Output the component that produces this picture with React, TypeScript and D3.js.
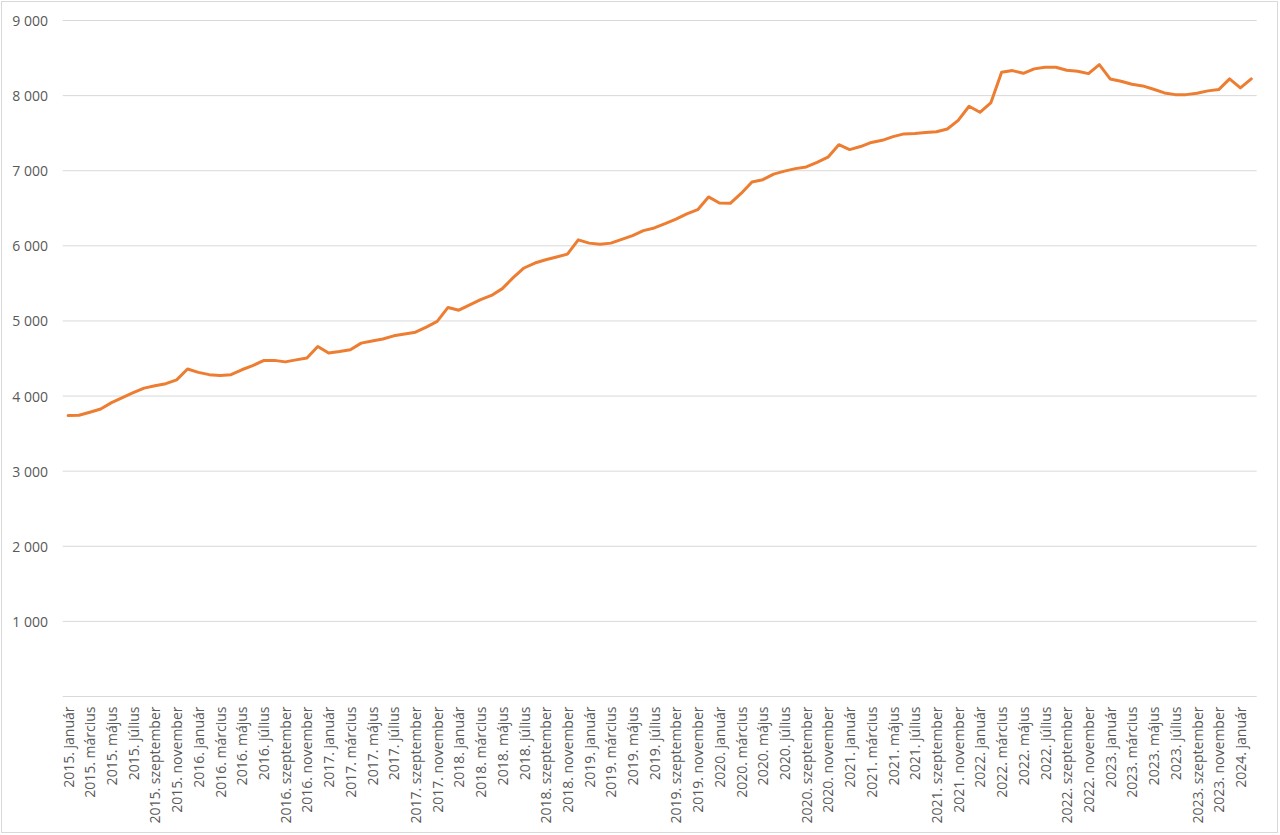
import React from "react";
import * as d3 from "d3";

const years = [2015, 2016, 2017, 2018, 2019, 2020, 2021, 2022, 2023, 2024];
const monthNames = [
  "január", "február", "március", "április", "május", "június",
  "július", "augusztus", "szeptember", "október", "november", "december",
];
const seriesValues = [
  3740, 3745, 3785, 3828, 3912, 3980, 4045, 4106, 4137, 4165, 4215, 4360,
  4315, 4285, 4275, 4285, 4350, 4405, 4472, 4475, 4455, 4482, 4506, 4660,
  4572, 4592, 4616, 4705, 4732, 4760, 4802, 4825, 4850, 4918, 4995, 5180,
  5143, 5215, 5283, 5340, 5430, 5577, 5705, 5771, 5815, 5851, 5890, 6080,
  6036, 6022, 6036, 6085, 6135, 6202, 6238, 6295, 6356, 6425, 6481, 6651,
  6571, 6566, 6697, 6851, 6881, 6955, 6995, 7028, 7050, 7112, 7180, 7347,
  7281, 7322, 7377, 7405, 7454, 7490, 7497, 7508, 7518, 7556, 7671, 7858,
  7778, 7903, 8311, 8333, 8297, 8356, 8377, 8377, 8337, 8324, 8293, 8413,
  8222, 8191, 8151, 8129, 8084, 8036, 8013, 8013, 8031, 8063, 8080, 8222,
  8103, 8222,
];
const yTicks = [1000, 2000, 3000, 4000, 5000, 6000, 7000, 8000, 9000];

const categories: string[] = [];
years.forEach((y) =>
  monthNames.forEach((m) => {
    if (categories.length < seriesValues.length) categories.push(`${y}. ${m}`);
  })
);

const W = 1280;
const H = 835;
const left = 62.7;
const right = 1256.7;
const top = 20.5;
const bottom = 696.5;
const FONT = "'Open Sans', 'Noto Sans', sans-serif";
const TEXT = "#595959";
const GRID = "#d9d9d9";

export default function App() {
  const x = d3.scaleBand<string>().domain(categories).range([left, right]).padding(0);
  const y = d3.scaleLinear().domain([0, 9000]).range([bottom, top]);
  const cx = (c: string) => (x(c) as number) + x.bandwidth() / 2;
  const line = d3
    .line<number>()
    .x((_, i) => cx(categories[i]))
    .y((d) => y(d));

  const fmt = (v: number) => d3.format(",")(v).replace(/,/g, " ");

  return (
    <svg
      width={W}
      height={H}
      style={{ position: "absolute", left: 0, top: 0, background: "#fff" }}
      fontFamily={FONT}
    >
      <rect x={1.5} y={1.5} width={1276} height={831} fill="#fff" stroke={GRID} strokeWidth={1} />
      {yTicks.map((t) => (
        <g key={t}>
          <line x1={left} x2={right} y1={y(t)} y2={y(t)} stroke={GRID} strokeWidth={1} />
          <text
            x={48}
            y={y(t)}
            textAnchor="end"
            dominantBaseline="central"
            fontSize={14}
            fill={TEXT}
          >
            {fmt(t)}
          </text>
        </g>
      ))}
      <line x1={left} x2={right} y1={y(0)} y2={y(0)} stroke={GRID} strokeWidth={1} />
      {categories.map((c, i) =>
        i % 2 === 0 ? (
          <text
            key={c}
            transform={`translate(${cx(c)},${bottom + 10}) rotate(-90)`}
            textAnchor="end"
            dominantBaseline="central"
            fontSize={14}
            fill={TEXT}
          >
            {c}
          </text>
        ) : null
      )}
      <path
        d={line(seriesValues) || ""}
        fill="none"
        stroke="#ED7D31"
        strokeWidth={3}
        strokeLinejoin="round"
        strokeLinecap="round"
      />
    </svg>
  );
}
